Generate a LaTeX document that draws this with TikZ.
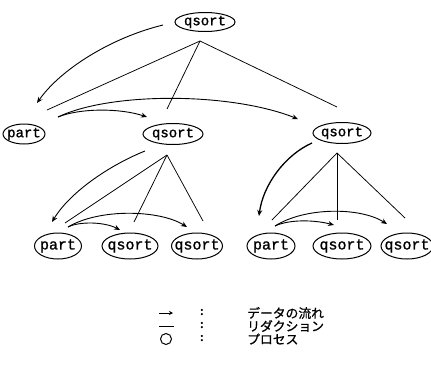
\documentclass[tikz,border=0pt]{standalone}
\usepackage{fontspec}
\setmainfont{Liberation Serif}
\newfontfamily\monof[FakeBold=1.2]{Liberation Mono}
\newfontfamily\jpf[FakeBold=0.8]{Noto Sans CJK JP}
\usetikzlibrary{shapes.geometric,arrows.meta}
\begin{document}
\begin{tikzpicture}[x=1pt,y=-1pt,
  proc/.style={draw,ellipse,inner sep=0pt,line width=1pt,
    label={[font=\monof\fontsize{14}{14}\selectfont,inner sep=0pt]center:#1}},
  procb/.style={draw,ellipse,inner sep=0pt,line width=1pt,
    label={[font=\monof\fontsize{15}{15}\selectfont,inner sep=0pt]center:#1}},
  red/.style={line width=0.75pt},
  flow/.style={line width=0.9pt,-{Stealth[length=6pt,width=5pt]}},
  leg/.style={anchor=west,font=\jpf\fontsize{12.8}{12.8}\selectfont,inner sep=0pt},
  colon/.style={font=\bfseries\fontsize{13}{13}\selectfont,inner sep=0pt}]
\useasboundingbox (0,0) rectangle (431,367);
% nodes
\node[proc=qsort,minimum width=60pt,minimum height=19pt] (q0) at (205,22) {};
\node[proc=part,minimum width=42pt,minimum height=20pt] (p1) at (24,134) {};
\node[proc=qsort,minimum width=60pt,minimum height=21pt] (q1) at (173,134) {};
\node[proc=qsort,minimum width=58pt,minimum height=21pt] (q2) at (342,133) {};
\node[procb=part,minimum width=47pt,minimum height=26pt] (p3) at (58,246) {};
\node[procb=qsort,minimum width=56pt,minimum height=26pt] (q3) at (130,246) {};
\node[procb=qsort,minimum width=51pt,minimum height=26pt] (q4) at (197,246) {};
\node[procb=part,minimum width=48pt,minimum height=26pt] (p5) at (271,246) {};
\node[procb=qsort,minimum width=58pt,minimum height=26pt] (q5) at (342,246) {};
\node[procb=qsort,minimum width=52pt,minimum height=26pt] (q6) at (407,246) {};
% reduction apexes and ends
\coordinate (a0) at (200,41);
\coordinate (e01) at (47,110);
\coordinate (e02) at (167,109);
\coordinate (e03) at (337,107);
\draw[red] (a0) -- (e01);
\draw[red] (a0) -- (e02);
\draw[red] (a0) -- (e03);
\coordinate (a1) at (167,155);
\coordinate (e11) at (65,223);
\coordinate (e12) at (134,222);
\coordinate (e13) at (203,221);
\draw[red] (a1) -- (e11);
\draw[red] (a1) -- (e12);
\draw[red] (a1) -- (e13);
\coordinate (a2) at (337,153);
\coordinate (e21) at (272,220);
\coordinate (e22) at (337,220);
\coordinate (e23) at (405,218);
\draw[red] (a2) -- (e21);
\draw[red] (a2) -- (e22);
\draw[red] (a2) -- (e23);
% data flow
\coordinate (f0s) at (163,25);
\coordinate (f0e) at (37,103);
\draw[flow] (f0s) .. controls (110,38) and (60,70) .. (f0e);
\coordinate (f1s) at (58,117);
\coordinate (f1e) at (147,117);
\coordinate (f1f) at (298,119);
\draw[flow] (f1s) .. controls (80,108) and (120,108) .. (f1e);
\draw[flow] (f1s) .. controls (110,92) and (230,92) .. (f1f);
\coordinate (f2s) at (145,151);
\coordinate (f2e) at (52,222);
\draw[flow] (f2s) .. controls (110,165) and (70,192) .. (f2e);
\coordinate (f3s) at (68,227);
\coordinate (f3e) at (120,230);
\coordinate (f3f) at (187,227);
\draw[flow] (f3s) .. controls (80,221) and (105,222) .. (f3e);
\draw[flow] (f3s) .. controls (100,208) and (160,210) .. (f3f);
\coordinate (f4s) at (312,143);
\coordinate (f4e) at (259,216);
\draw[flow,line width=1.3pt] (f4s) .. controls (285,155) and (263,185) .. (f4e);
\coordinate (f5s) at (275,226);
\coordinate (f5e) at (334,225);
\coordinate (f5f) at (387,224);
\draw[flow] (f5s) .. controls (290,219) and (315,220) .. (f5e);
\draw[flow] (f5s) .. controls (305,207) and (360,207) .. (f5f);
% legend
\coordinate (l1s) at (159,313);
\coordinate (l1e) at (173,313);
\draw[line width=1pt,-{Stealth[length=4pt,width=4pt]}] (l1s) -- (l1e);
\coordinate (l2s) at (159,326);
\coordinate (l2e) at (174,326);
\draw[line width=0.9pt] (l2s) -- (l2e);
\node[draw,circle,line width=1pt,minimum size=11pt,inner sep=0pt] (lc) at (166,339) {};
\node[colon] (c1) at (202,313) {:};
\node[colon] (c2) at (202,326) {:};
\node[colon] (c3) at (202,339) {:};
\node[leg] (t1) at (247,313) {データの流れ};
\node[leg] (t2) at (247,326) {リダクション};
\node[leg] (t3) at (247,339) {プロセス};
\end{tikzpicture}
\end{document}
